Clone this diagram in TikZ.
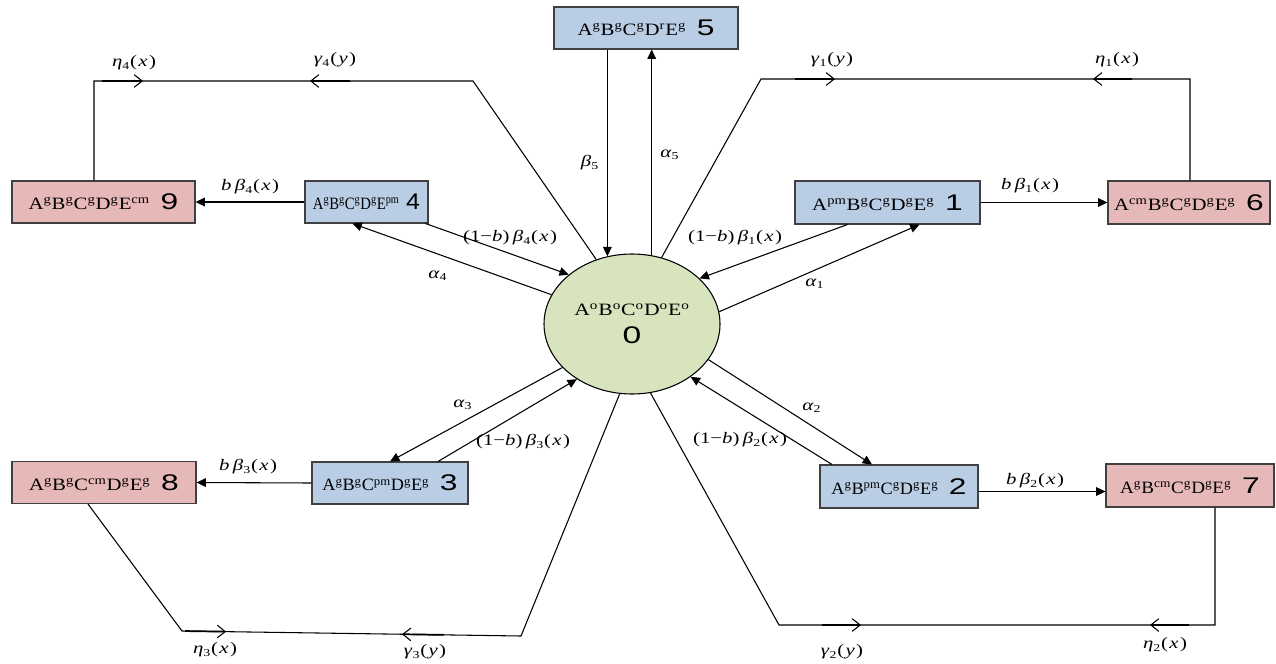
\documentclass[tikz,border=0pt]{standalone}
\usepackage{fontspec}
\usepackage{graphicx}
\setmainfont{Liberation Serif}
\newfontfamily\numfont{Liberation Sans}
\usetikzlibrary{arrows.meta,calc,shapes.geometric}

\definecolor{boxblue}{RGB}{185,205,229}
\definecolor{boxpink}{RGB}{230,185,184}
\definecolor{hubgreen}{RGB}{215,228,189}
\definecolor{edgegray}{RGB}{64,64,64}

% state label: component letters with superscripts, then the state number
\newcommand\supx[1]{\textsuperscript{#1}}
\newcommand\statenum[2][1.4]{\scalebox{#1}[1]{\numfont\fontsize{17}{17}\selectfont #2}}
\newcommand\statetext[3][1.2]{\scalebox{#1}[1]{#2}\hspace{8pt}\statenum{#3}}
% rate labels, set wide
\newcommand\gr[1]{\textit{#1}}
\newcommand\sbx[1]{\textsubscript{#1}}
\newcommand\rate[1]{\scalebox{1.3}[1]{#1}}
\newcommand\ofvar[1]{(\kern0.8pt\gr{#1}\kern0.8pt)}

\begin{document}
\begin{tikzpicture}[x=0.75pt,y=-0.75pt,
  state/.style={draw=edgegray, line width=0.8pt, minimum height=31.5pt,
    inner sep=0pt, font=\fontsize{13}{15}\selectfont},
  pmbox/.style={state, fill=boxblue},
  cmbox/.style={state, fill=boxpink},
  link/.style={line width=0.8pt, -{Triangle[length=7pt,width=6.5pt]}},
  loopline/.style={line width=0.8pt},
  flow/.style={line width=1.3pt, -{Straight Barb[length=6pt,width=9.5pt,line width=0.8pt]}},
  lab/.style={font=\fontsize{12}{14}\selectfont, inner sep=0pt}]
\useasboundingbox (0,0) rectangle (1276,663);

% states
\node[pmbox, minimum width=138pt] (s5) at (646,28)
  {\statetext{A\supx{g}B\supx{g}C\supx{g}D\supx{r}E\supx{g}}{5}};
\node[cmbox, minimum width=137.25pt] (s9) at (103.5,202)
  {\statetext{A\supx{g}B\supx{g}C\supx{g}D\supx{g}E\supx{cm}}{9}};
\node[pmbox, minimum width=92.25pt] (s4) at (366.5,202)
  {\scalebox{0.85}[1]{A\supx{g}B\supx{g}C\supx{g}D\supx{g}E\supx{pm}}\hspace{5pt}\statenum[1.1]{4}};
\node[pmbox, minimum width=138.75pt, minimum height=32.25pt] (s1) at (887.5,202.5)
  {\statetext{A\supx{pm}B\supx{g}C\supx{g}D\supx{g}E\supx{g}}{1}};
\node[cmbox, minimum width=121.5pt, minimum height=32.25pt] (s6) at (1189,202.5)
  {\statetext{A\supx{cm}B\supx{g}C\supx{g}D\supx{g}E\supx{g}}{6}};
\node[cmbox, minimum width=138pt] (s8) at (104,482.5)
  {\statetext{A\supx{g}B\supx{g}C\supx{cm}D\supx{g}E\supx{g}}{8}};
\node[pmbox, minimum width=117pt] (s3) at (390,483)
  {\statetext[1.05]{A\supx{g}B\supx{g}C\supx{pm}D\supx{g}E\supx{g}}{3}};
\node[pmbox, minimum width=118.5pt, minimum height=32.25pt] (s2) at (899,486.5)
  {\statetext[1.05]{A\supx{g}B\supx{pm}C\supx{g}D\supx{g}E\supx{g}}{2}};
\node[cmbox, minimum width=126pt, minimum height=32.25pt] (s7) at (1190,485.5)
  {\statetext[1.1]{A\supx{g}B\supx{cm}C\supx{g}D\supx{g}E\supx{g}}{7}};

% all-good state
\node[ellipse, draw=black, line width=0.8pt, fill=hubgreen, minimum width=132pt,
  minimum height=105pt, inner sep=0pt, align=center,
  font=\fontsize{13}{15}\selectfont] (s0) at (632,324)
  {\scalebox{1.25}[1]{A\supx{o}B\supx{o}C\supx{o}D\supx{o}E\supx{o}}\\[6pt]%
   \scalebox{1.4}[1]{\numfont\fontsize{18}{18}\selectfont 0}};

% failure and repair transitions
\draw[link] (s0.110 |- s5.south) -- (s0.110);
\draw[link] (s0.74) -- (s0.74 |- s5.south);
\draw[link] ($(s4.south east)+(-3,0)$) -- (s0.142);
\draw[link] (s0.160) -- ($(s4.south)+(-14,0)$);
\draw[link] ($(s1.south)+(-40,0)$) -- (s0.34);
\draw[link] (s0.8) -- ($(s1.south)+(32,0)$);
\draw[link] (s0.212) -- (s3.north);
\draw[link] ($(s3.north)+(48,0)$) -- (s0.225);
\draw[link] (s0.335) -- ($(s2.north)+(-27,0)$);
\draw[link] ($(s2.north)+(-67,0)$) -- (s0.318);

% degradation to complete failure
\draw[link] (s4.west) -- (s9.east);
\draw[link] (s1.east) -- (s6.west);
\draw[link] (s3.west) -- (s8.east);
\coordinate (r2) at ($(s2.east)+(0,5)$);
\draw[link] (r2) -- (r2 -| s7.west);

% return paths
\coordinate (tl1) at (473,81);
\coordinate (tl2) at (94,81);
\draw[loopline] (s0.119) -- (tl1) -- (tl2) -- (tl2 |- s9.north);
\coordinate (tr1) at (761,79);
\coordinate (tr2) at (1190,79);
\draw[loopline] (s0.66) -- (tr1) -- (tr2) -- (tr2 |- s6.north);
\coordinate (bl1) at (182,631);
\coordinate (bl2) at (521,636);
\draw[loopline] ($(s8.south)+(-16,0)$) -- (bl1) -- (bl2) -- (s0.260);
\coordinate (br1) at (779,625);
\coordinate (br2) at (1215,625);
\draw[loopline] (s0.285) -- (br1) -- (br2) -- (br2 |- s7.south);

% direction marks on the return paths
\draw[flow] ($(tl2)+(8,0)$) -- ($(tl2)+(49,0)$);
\draw[flow] ($(tl2)+(256,0)$) -- ($(tl2)+(216,0)$);
\draw[flow] ($(tr1)+(34,0)$) -- ($(tr1)+(74,0)$);
\draw[flow] ($(tr2)+(-58,0)$) -- ($(tr2)+(-97,0)$);
\draw[flow] ($(bl1)!0.009!(bl2)$) -- ($(bl1)!0.130!(bl2)$);
\draw[flow] ($(bl1)!0.773!(bl2)$) -- ($(bl1)!0.649!(bl2)$);
\draw[flow] ($(br1)+(43,0)$) -- ($(br1)+(82,0)$);
\draw[flow] ($(br2)+(-26,0)$) -- ($(br2)+(-65,0)$);

% rates
\node[lab] (l5b) at (590,163) {\rate{\gr{β}\sbx{5}}};
\node[lab] (l5a) at (670,155) {\rate{\gr{α}\sbx{5}}};
\node[lab] (l4c) at (250,187) {\rate{\gr{b}\,\gr{β}\sbx{4}\ofvar{x}}};
\node[lab] (l1c) at (1030,186) {\rate{\gr{b}\,\gr{β}\sbx{1}\ofvar{x}}};
\node[lab] (l4b) at (510,238) {\rate{(1−\gr{b})\,\gr{β}\sbx{4}\ofvar{x}}};
\node[lab] (l1b) at (735,238) {\rate{(1−\gr{b})\,\gr{β}\sbx{1}\ofvar{x}}};
\node[lab] (l4a) at (438,276) {\rate{\gr{α}\sbx{4}}};
\node[lab] (l1a) at (815,284) {\rate{\gr{α}\sbx{1}}};
\node[lab] (l3a) at (463,405) {\rate{\gr{α}\sbx{3}}};
\node[lab] (l3b) at (523,442) {\rate{(1−\gr{b})\,\gr{β}\sbx{3}\ofvar{x}}};
\node[lab] (l2a) at (812,408) {\rate{\gr{α}\sbx{2}}};
\node[lab] (l2b) at (740,440) {\rate{(1−\gr{b})\,\gr{β}\sbx{2}\ofvar{x}}};
\node[lab] (l3c) at (248,467) {\rate{\gr{b}\,\gr{β}\sbx{3}\ofvar{x}}};
\node[lab] (l2c) at (1035,481) {\rate{\gr{b}\,\gr{β}\sbx{2}\ofvar{x}}};
\node[lab] (g4) at (335,60) {\rate{\gr{γ}\sbx{4}\ofvar{y}}};
\node[lab] (e4) at (134,63) {\rate{\gr{η}\sbx{4}\ofvar{x}}};
\node[lab] (g1) at (832,60) {\rate{\gr{γ}\sbx{1}\ofvar{y}}};
\node[lab] (e1) at (1117,60) {\rate{\gr{η}\sbx{1}\ofvar{x}}};
\node[lab] (e3) at (215,650) {\rate{\gr{η}\sbx{3}\ofvar{x}}};
\node[lab] (g3) at (425,652) {\rate{\gr{γ}\sbx{3}\ofvar{y}}};
\node[lab] (g2) at (842,652) {\rate{\gr{γ}\sbx{2}\ofvar{y}}};
\node[lab] (e2) at (1165,645) {\rate{\gr{η}\sbx{2}\ofvar{x}}};
\end{tikzpicture}
\end{document}
